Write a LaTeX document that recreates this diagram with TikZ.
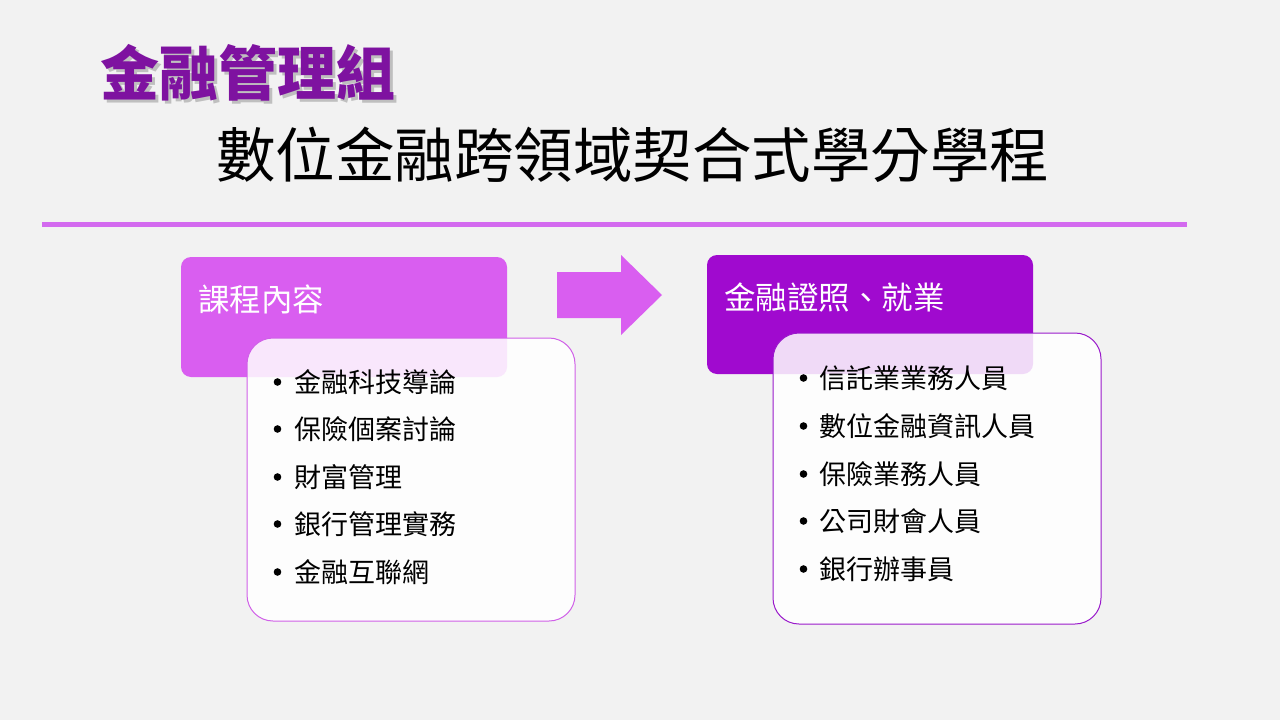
\documentclass[tikz,border=0pt]{standalone}
\usepackage{fontspec}
\setmainfont{Noto Sans CJK TC}
\usetikzlibrary{shapes.arrows}
\definecolor{bg}{HTML}{F2F2F2}
\definecolor{ttlpurple}{HTML}{7E12A0}
\definecolor{lightpur}{HTML}{D95EF0}
\definecolor{darkpur}{HTML}{A00ACF}
\definecolor{rulecol}{HTML}{D36AEF}
\definecolor{leftborder}{HTML}{D060E8}
\definecolor{rightborder}{HTML}{9A1ACB}
\tikzset{
  hdrbox/.style={rounded corners=10pt, draw=none},
  listbox/.style={rounded corners=26pt, fill=white, fill opacity=0.85, line width=1pt},
  item/.style={anchor=west, inner sep=0pt, font=\fontsize{27}{28}\selectfont, text=black},
  hdrtxt/.style={anchor=west, inner sep=0pt, font=\fontsize{31.5}{33}\selectfont, text=white},
  bul/.style={fill=black}
}
\begin{document}
\begin{tikzpicture}[x=1pt,y=-1pt]
\fill[bg] (0,0) rectangle (1280,720);
\useasboundingbox (0,0) rectangle (1280,720);
% titles
\node[anchor=west, inner sep=0pt, text=black!55, opacity=0.4, font=\fontsize{59}{60}\selectfont\bfseries] (t1s) at (103,76) {金融管理組};
\node[anchor=west, inner sep=0pt, text=ttlpurple, font=\fontsize{59}{60}\selectfont\bfseries] (t1) at (100,73) {金融管理組};
\node[anchor=west, inner sep=0pt, text=black, font=\fontsize{59.5}{61}\selectfont] (t2) at (216,155) {數位金融跨領域契合式學分學程};
% rule
\coordinate (r1) at (42,224);
\coordinate (r2) at (1187,224);
\draw[rulecol, line width=5pt] (r1) -- (r2);
% left group
\fill[lightpur, hdrbox] (181,257) rectangle (507,377);
\node[hdrtxt] (lh) at (198,299) {課程內容};
\draw[leftborder, listbox] (247,338) rectangle (575,621);
\foreach \y/\t [count=\i] in {382/金融科技導論, 429/保險個案討論, 477/財富管理, 524/銀行管理實務, 572/金融互聯網}{
  \fill[bul] (277.5,\y) circle (3.8);
  \node[item] (li\i) at (294,\y) {\t};
}
% arrow
\fill[lightpur] (557,272) -- (621,272) -- (621,255) -- (662,295) -- (621,335) -- (621,318) -- (557,318) -- cycle;
% right group
\fill[darkpur, hdrbox] (707,255) rectangle (1033,374);
\node[hdrtxt] (rh) at (724,297) {金融證照、就業};
\draw[rightborder, listbox] (773,333) rectangle (1101,624);
\foreach \y/\t [count=\i] in {378/信託業業務人員, 426/數位金融資訊人員, 474/保險業務人員, 521/公司財會人員, 569/銀行辦事員}{
  \fill[bul] (803.5,\y) circle (3.8);
  \node[item] (ri\i) at (819,\y) {\t};
}
\end{tikzpicture}
\end{document}
